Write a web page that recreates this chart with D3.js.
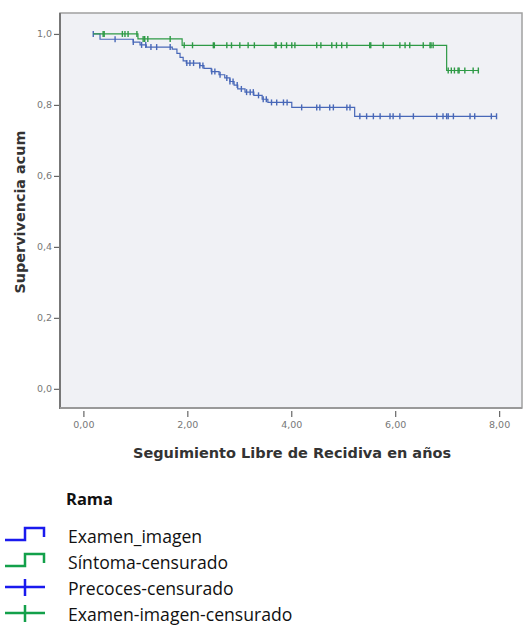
<!DOCTYPE html>
<html><head><meta charset="utf-8">
<script src="https://cdn.jsdelivr.net/npm/d3@7"></script>
<style>body{margin:0;background:#fff}svg{display:block}</style>
</head><body>
<svg id="c" width="524" height="626"></svg>
<script>
// ---- data ----
const xTicks = [0, 2, 4, 6, 8];
const xTickLabels = ["0,00", "2,00", "4,00", "6,00", "8,00"];
const yTicks = [0, 0.2, 0.4, 0.6, 0.8, 1.0];
const yTickLabels = ["0,0", "0,2", "0,4", "0,6", "0,8", "1,0"];

// Examen_imagen group (blue)
const blueStart = 0.19, blueEnd = 7.95;
const blueStepTimes = [0.32, 0.96, 1.09, 1.21, 1.71, 1.80, 1.86, 1.92, 1.98, 2.24, 2.32, 2.46, 2.61, 2.72, 2.82, 2.90, 2.97, 3.11, 3.28, 3.44, 3.55, 4.01, 5.22];
const blueStepSurv  = [0.985, 0.977, 0.969, 0.963, 0.957, 0.945, 0.934, 0.924, 0.918, 0.911, 0.903, 0.894, 0.885, 0.876, 0.866, 0.856, 0.845, 0.836, 0.827, 0.816, 0.807, 0.793, 0.768];
const blueCensor = [0.19, 0.61, 0.96, 1.12, 1.2, 1.3, 1.41, 1.67, 1.99, 2.05, 2.12, 2.24, 2.30, 2.47, 2.53, 2.63, 2.76, 2.82, 2.88, 2.96, 3.04, 3.14, 3.21, 3.27, 3.37, 3.46, 3.52, 3.62, 3.72, 3.85, 3.92, 4.2, 4.49, 4.55, 4.74, 4.81, 5.07, 5.13, 5.32, 5.45, 5.58, 5.71, 5.90, 5.96, 6.09, 6.35, 6.80, 6.92, 6.99, 7.02, 7.12, 7.44, 7.53, 7.85, 7.95];

// Síntoma group (green)
const greenStart = 0.19, greenEnd = 7.60;
const greenStepTimes = [1.05, 1.90, 6.99];
const greenStepSurv  = [0.986, 0.968, 0.897];
const greenCensor = [0.38, 0.40, 0.75, 0.80, 0.86, 1.03, 1.15, 1.18, 1.24, 1.67, 1.94, 2.10, 2.50, 2.52, 2.76, 2.85, 3.01, 3.17, 3.29, 3.69, 3.71, 3.81, 3.91, 4.01, 4.07, 4.49, 4.57, 4.78, 4.87, 4.97, 5.07, 5.51, 5.53, 5.77, 6.09, 6.19, 6.28, 6.54, 6.67, 6.69, 6.73, 7.02, 7.08, 7.14, 7.21, 7.23, 7.34, 7.50, 7.60];

const legendTitle = "Rama";
const legendLabels = ["Examen_imagen", "Síntoma-censurado", "Precoces-censurado", "Examen-imagen-censurado"];
const legendTypes = ["step", "step", "cross", "cross"];
const legendColors = ["#1a1aee", "#13a04a", "#1a1aee", "#13a04a"];

const xTitle = "Seguimiento Libre de Recidiva en años";
const yTitle = "Supervivencia acum";

// ---- drawing ----
const svg = d3.select("#c");
const L = 60, R = 522, T = 13, B = 408;
const x = d3.scaleLinear().domain([-0.45, 8.44]).range([L, R]);
const y = d3.scaleLinear().domain([-0.054, 1.059]).range([B, T]);
const af = "'DejaVu Sans', Verdana, sans-serif";

svg.append("rect").attr("x", L).attr("y", T).attr("width", R - L).attr("height", B - T)
  .attr("fill", "#f0f1f5").attr("stroke", "#a0a0a0").attr("stroke-width", 1.5);
svg.append("line").attr("x1", L).attr("x2", L).attr("y1", T).attr("y2", B + 1)
  .attr("stroke", "#777").attr("stroke-width", 2);
svg.append("line").attr("x1", L).attr("x2", R).attr("y1", B).attr("y2", B)
  .attr("stroke", "#999").attr("stroke-width", 2);

// y axis
const yAxis = d3.axisLeft(y).tickValues(yTicks).tickSize(5).tickFormat((d, i) => yTickLabels[i]);
const gy = svg.append("g").attr("transform", `translate(${L - 1},0)`).call(yAxis);
gy.select(".domain").remove();
gy.selectAll(".tick line").attr("stroke", "#666").attr("stroke-width", 1.2);
gy.selectAll(".tick text").attr("fill", "#777").attr("font-family", af).attr("font-size", 9.5).attr("x", -7);

// x axis
const xAxis = d3.axisBottom(x).tickValues(xTicks).tickSize(6).tickFormat((d, i) => xTickLabels[i]);
const gx = svg.append("g").attr("transform", `translate(0,${B + 3})`).call(xAxis);
gx.select(".domain").remove();
gx.selectAll(".tick line").attr("stroke", "#666").attr("stroke-width", 1.2);
gx.selectAll(".tick text").attr("fill", "#777").attr("font-family", af).attr("font-size", 9.5).attr("y", 10);

svg.append("text").attr("x", 292).attr("y", 458).attr("text-anchor", "middle")
  .attr("font-family", af).attr("font-weight", "bold").attr("font-size", 14.5)
  .attr("fill", "#333").text(xTitle);
svg.append("text").attr("transform", "translate(25,212) rotate(-90)").attr("text-anchor", "middle")
  .attr("font-family", af).attr("font-weight", "bold").attr("font-size", 14.4)
  .attr("fill", "#333").text(yTitle);

function survAt(times, surv, t) {
  let s = 1;
  for (let i = 0; i < times.length; i++) if (times[i] <= t) s = surv[i];
  return s;
}
function drawCurve(start, end, times, surv, censor, color) {
  const pts = [[start, 1]];
  times.forEach((t, i) => pts.push([t, surv[i]]));
  pts.push([end, surv[surv.length - 1]]);
  const line = d3.line().x(d => x(d[0])).y(d => y(d[1])).curve(d3.curveStepAfter);
  svg.append("path").attr("d", line(pts)).attr("fill", "none").attr("stroke", color).attr("stroke-width", 1.2);
  svg.append("g").selectAll("line").data(censor).join("line")
    .attr("x1", d => x(d)).attr("x2", d => x(d))
    .attr("y1", d => y(survAt(times, surv, d)) - 3).attr("y2", d => y(survAt(times, surv, d)) + 3)
    .attr("stroke", color).attr("stroke-width", 1.4);
}
drawCurve(blueStart, blueEnd, blueStepTimes, blueStepSurv, blueCensor, "#4868b8");
drawCurve(greenStart, greenEnd, greenStepTimes, greenStepSurv, greenCensor, "#2e9a46");

// legend
const lf = "'Open Sans', 'Noto Sans', sans-serif";
svg.append("text").attr("x", 66).attr("y", 505).attr("font-family", lf).attr("font-weight", "bold")
  .attr("font-size", 16.5).attr("fill", "#111").text(legendTitle);
legendLabels.forEach((lab, i) => {
  const cy = 535 + i * 26;
  const g = svg.append("g");
  if (legendTypes[i] === "step") {
    g.append("path").attr("d", `M5,${cy + 5}H25V${cy - 7}H44V${cy + 2}`)
      .attr("fill", "none").attr("stroke", legendColors[i]).attr("stroke-width", 2.5);
  } else {
    g.append("path").attr("d", `M5,${cy}H45M25,${cy - 8}V${cy + 9}`)
      .attr("fill", "none").attr("stroke", legendColors[i]).attr("stroke-width", 2.5);
  }
  g.append("text").attr("x", 68).attr("y", cy + 8).attr("font-family", lf).attr("font-size", 17.6)
    .attr("fill", "#111").text(lab);
});
</script>
</body></html>
